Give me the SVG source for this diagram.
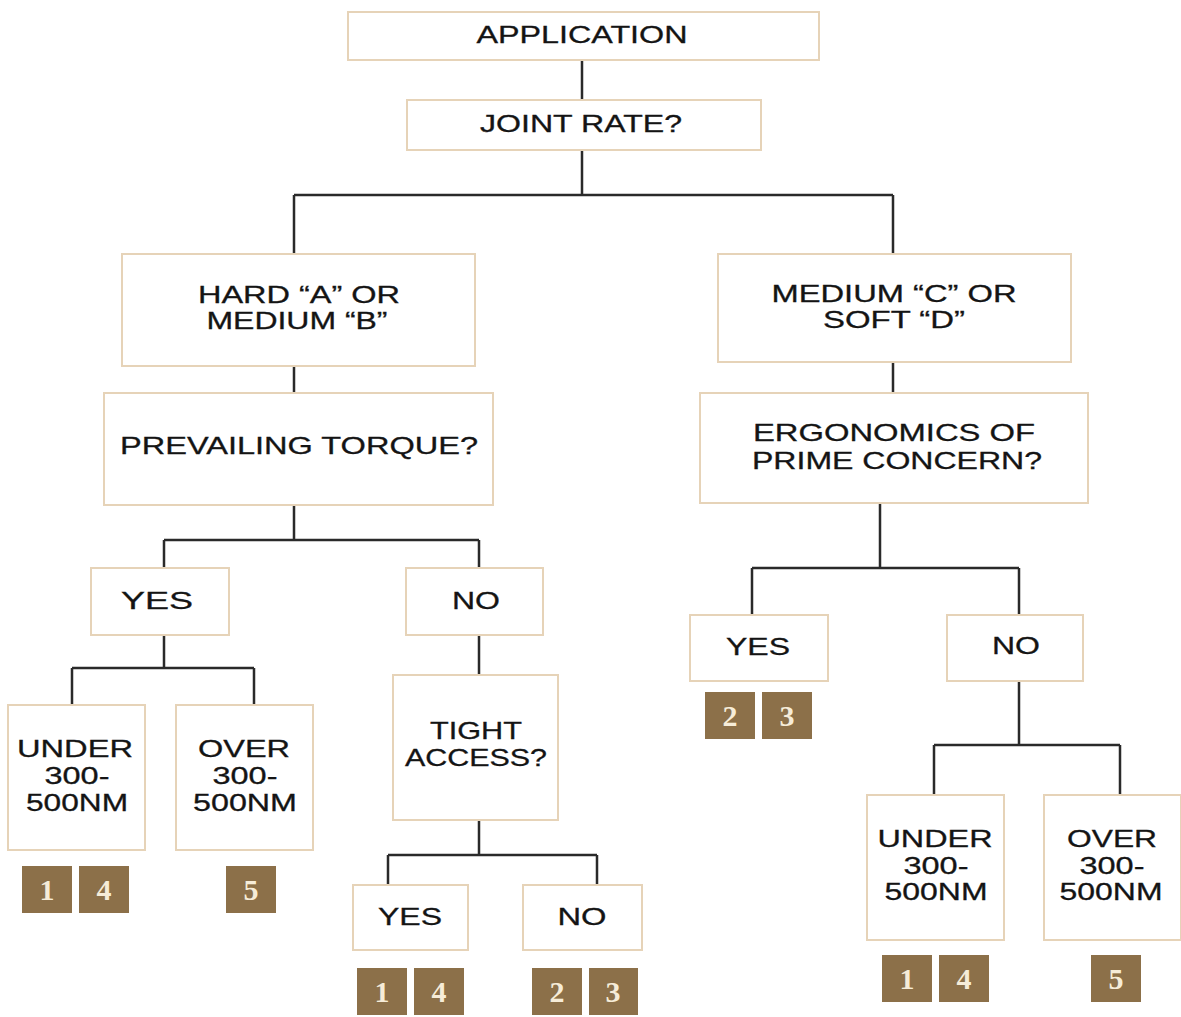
<svg xmlns="http://www.w3.org/2000/svg" width="1181" height="1017" viewBox="0 0 1181 1017">
<style>
.box{fill:#fff;stroke:#e6d3b8;stroke-width:2}
.t{font-family:"Liberation Sans",Arial,sans-serif;font-size:24px;fill:#141414;stroke:#141414;stroke-width:0.3;text-anchor:middle}
.b{fill:#8c7049}
.n{font-family:"Liberation Serif","Times New Roman",serif;font-size:30px;font-weight:bold;fill:#f6ecd8;text-anchor:middle}
.c{fill:none;stroke:#2a2a2a;stroke-width:2.5}
</style>
<rect width="1181" height="1017" fill="#fff"/>
<g id="connectors">
<path class="c" d="M582 60V100M582 150V195M294 195H893M294 195V254M893 195V254"/>
<path class="c" d="M294 366V393M294 505V540M164 540H479M164 540V568M479 540V568"/>
<path class="c" d="M164 635V668M72 668H254M72 668V705M254 668V705"/>
<path class="c" d="M479 635V675M479 820V855M388 855H597M388 855V885M597 855V885"/>
<path class="c" d="M893 362V393M880 503V568M752 568H1019M752 568V615M1019 568V615"/>
<path class="c" d="M1019 681V745M934 745H1120M934 745V795M1120 745V795"/>
</g>
<g id="application"><rect class="box" x="348" y="12" width="471" height="48"/><text class="t" x="582" y="43" textLength="211" lengthAdjust="spacingAndGlyphs">APPLICATION</text></g>
<g id="joint-rate"><rect class="box" x="407" y="100" width="354" height="50"/><text class="t" x="581" y="132" textLength="202" lengthAdjust="spacingAndGlyphs">JOINT RATE?</text></g>
<g id="hard-medium"><rect class="box" x="122" y="254" width="353" height="112"/><text class="t" x="299" y="303" textLength="202" lengthAdjust="spacingAndGlyphs">HARD “A” OR</text><text class="t" x="297" y="329" textLength="181" lengthAdjust="spacingAndGlyphs">MEDIUM “B”</text></g>
<g id="medium-soft"><rect class="box" x="718" y="254" width="353" height="108"/><text class="t" x="894" y="302" textLength="245" lengthAdjust="spacingAndGlyphs">MEDIUM “C” OR</text><text class="t" x="894" y="328" textLength="142" lengthAdjust="spacingAndGlyphs">SOFT “D”</text></g>
<g id="prevailing"><rect class="box" x="104" y="393" width="389" height="112"/><text class="t" x="299" y="454" textLength="358" lengthAdjust="spacingAndGlyphs">PREVAILING TORQUE?</text></g>
<g id="ergonomics"><rect class="box" x="700" y="393" width="388" height="110"/><text class="t" x="894" y="441" textLength="282" lengthAdjust="spacingAndGlyphs">ERGONOMICS OF</text><text class="t" x="897" y="469" textLength="290" lengthAdjust="spacingAndGlyphs">PRIME CONCERN?</text></g>
<g id="yes-left"><rect class="box" x="91" y="568" width="138" height="67"/><text class="t" x="157" y="609" textLength="72" lengthAdjust="spacingAndGlyphs">YES</text></g>
<g id="no-left"><rect class="box" x="406" y="568" width="137" height="67"/><text class="t" x="476" y="609" textLength="48" lengthAdjust="spacingAndGlyphs">NO</text></g>
<g id="under-left"><rect class="box" x="8" y="705" width="137" height="145"/><text class="t" x="75" y="757" textLength="116" lengthAdjust="spacingAndGlyphs">UNDER</text><text class="t" x="77" y="784" textLength="65" lengthAdjust="spacingAndGlyphs">300-</text><text class="t" x="77" y="811" textLength="102" lengthAdjust="spacingAndGlyphs">500NM</text></g>
<g id="over-left"><rect class="box" x="176" y="705" width="137" height="145"/><text class="t" x="244" y="757" textLength="92" lengthAdjust="spacingAndGlyphs">OVER</text><text class="t" x="245" y="784" textLength="65" lengthAdjust="spacingAndGlyphs">300-</text><text class="t" x="245" y="811" textLength="104" lengthAdjust="spacingAndGlyphs">500NM</text></g>
<g id="tight-access"><rect class="box" x="393" y="675" width="165" height="145"/><text class="t" x="476" y="739" textLength="92" lengthAdjust="spacingAndGlyphs">TIGHT</text><text class="t" x="476" y="766" textLength="142" lengthAdjust="spacingAndGlyphs">ACCESS?</text></g>
<g id="yes-tight"><rect class="box" x="353" y="885" width="115" height="65"/><text class="t" x="410" y="925" textLength="64" lengthAdjust="spacingAndGlyphs">YES</text></g>
<g id="no-tight"><rect class="box" x="523" y="885" width="119" height="65"/><text class="t" x="582" y="925" textLength="49" lengthAdjust="spacingAndGlyphs">NO</text></g>
<g id="yes-right"><rect class="box" x="690" y="615" width="138" height="66"/><text class="t" x="758" y="655" textLength="64" lengthAdjust="spacingAndGlyphs">YES</text></g>
<g id="no-right"><rect class="box" x="947" y="615" width="136" height="66"/><text class="t" x="1016" y="654" textLength="48" lengthAdjust="spacingAndGlyphs">NO</text></g>
<g id="under-right"><rect class="box" x="867" y="795" width="137" height="145"/><text class="t" x="935" y="847" textLength="115" lengthAdjust="spacingAndGlyphs">UNDER</text><text class="t" x="936" y="874" textLength="65" lengthAdjust="spacingAndGlyphs">300-</text><text class="t" x="936" y="900" textLength="103" lengthAdjust="spacingAndGlyphs">500NM</text></g>
<g id="over-right"><rect class="box" x="1044" y="795" width="137" height="145"/><text class="t" x="1112" y="847" textLength="90" lengthAdjust="spacingAndGlyphs">OVER</text><text class="t" x="1112" y="874" textLength="65" lengthAdjust="spacingAndGlyphs">300-</text><text class="t" x="1111" y="900" textLength="103" lengthAdjust="spacingAndGlyphs">500NM</text></g>
<g id="badges">
<rect class="b" x="22" y="866" width="50" height="47"/><text class="n" x="47" y="900">1</text>
<rect class="b" x="79" y="866" width="50" height="47"/><text class="n" x="104" y="900">4</text>
<rect class="b" x="226" y="866" width="50" height="47"/><text class="n" x="251" y="900">5</text>
<rect class="b" x="357" y="968" width="50" height="47"/><text class="n" x="382" y="1002">1</text>
<rect class="b" x="414" y="968" width="50" height="47"/><text class="n" x="439" y="1002">4</text>
<rect class="b" x="532" y="968" width="50" height="47"/><text class="n" x="557" y="1002">2</text>
<rect class="b" x="589" y="968" width="49" height="47"/><text class="n" x="613" y="1002">3</text>
<rect class="b" x="705" y="692" width="50" height="47"/><text class="n" x="730" y="726">2</text>
<rect class="b" x="762" y="692" width="50" height="47"/><text class="n" x="787" y="726">3</text>
<rect class="b" x="882" y="955" width="50" height="47"/><text class="n" x="907" y="989">1</text>
<rect class="b" x="939" y="955" width="50" height="47"/><text class="n" x="964" y="989">4</text>
<rect class="b" x="1091" y="955" width="50" height="47"/><text class="n" x="1116" y="989">5</text>
</g>
</svg>
